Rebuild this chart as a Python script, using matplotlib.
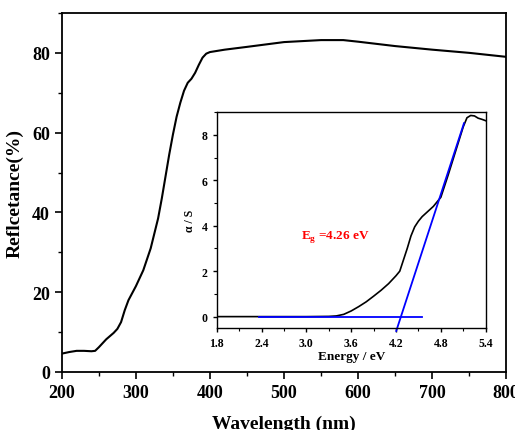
import matplotlib
matplotlib.use("Agg")
import matplotlib.pyplot as plt
from matplotlib.ticker import MultipleLocator

plt.rcParams['font.family'] = ['Liberation Serif', 'DejaVu Serif']
plt.rcParams['font.weight'] = 'bold'

# Main reflectance spectrum
wavelength = [200, 210, 220, 230, 240, 245, 250, 260, 270, 275, 280, 285, 290, 300, 310,
              320, 330, 335, 340, 345, 350, 355, 360, 365, 370, 375, 380, 385, 390, 395,
              400, 410, 420, 450, 500, 550, 580, 600, 650, 700, 750, 800]
reflectance = [4.6, 5.0, 5.3, 5.3, 5.2, 5.3, 6.2, 8.2, 9.8, 10.8, 12.5, 15.5, 18.0, 21.5, 25.5,
               31.0, 38.5, 43.5, 49.0, 54.5, 59.5, 64.0, 67.5, 70.5, 72.5, 73.5, 75.0, 77.0, 78.8, 79.8,
               80.2, 80.5, 80.8, 81.5, 82.7, 83.2, 83.2, 82.8, 81.7, 80.8, 80.0, 79.0]

# Inset: alpha/S vs energy
energy = [1.8, 2.4, 3.0, 3.3, 3.4, 3.5, 3.6, 3.7, 3.8, 3.9, 4.0, 4.1, 4.2, 4.25, 4.3, 4.35,
          4.4, 4.45, 4.5, 4.55, 4.6, 4.7, 4.8, 4.9, 5.0, 5.1, 5.15, 5.2, 5.25, 5.3, 5.35, 5.4]
alpha_s = [0.0, 0.0, 0.0, 0.01, 0.03, 0.1, 0.25, 0.44, 0.65, 0.9, 1.16, 1.45, 1.8, 2.0, 2.5, 3.0,
           3.55, 3.95, 4.2, 4.4, 4.55, 4.85, 5.25, 6.25, 7.3, 8.35, 8.75, 8.85, 8.83, 8.73, 8.68, 8.62]

# Fit lines
tangent_x = [4.203, 5.11]
tangent_y = [-0.63, 8.51]
base_x = [2.37, 4.55]
base_y = [0.0, 0.0]
eg_label = "E$_\\mathregular{g}$ =4.26 eV"

fig = plt.figure(figsize=(5.15, 4.31), dpi=100)
ax = fig.add_axes([0.120, 0.1346, 0.863, 0.833])
ax.plot(wavelength, reflectance, color='black', lw=1.5)
ax.set_xlim(200, 800)
ax.set_ylim(0, 90)
ax.xaxis.set_major_locator(MultipleLocator(100))
ax.xaxis.set_minor_locator(MultipleLocator(50))
ax.yaxis.set_major_locator(MultipleLocator(20))
ax.yaxis.set_minor_locator(MultipleLocator(10))
ax.tick_params(which='major', direction='out', length=5, width=1.2, labelsize=13)
ax.tick_params(which='minor', direction='out', length=3, width=1.0)
for s in ax.spines.values():
    s.set_linewidth(1.3)
ax.set_xlabel("Wavelength (nm)", fontsize=14, fontweight='bold', labelpad=10)
ax.set_ylabel("Reflcetance(%)", fontsize=14, fontweight='bold', labelpad=6)

ins = fig.add_axes([0.421, 0.2367, 0.522, 0.501])
ins.plot(energy, alpha_s, color='black', lw=1.2)
ins.plot(base_x, base_y, color='blue', lw=1.3)
ins.plot(tangent_x, tangent_y, color='blue', lw=1.3, clip_on=False)
ins.set_xlim(1.8, 5.4)
ins.set_ylim(-0.5, 9)
ins.xaxis.set_major_locator(MultipleLocator(0.6))
ins.xaxis.set_minor_locator(MultipleLocator(0.3))
ins.yaxis.set_major_locator(MultipleLocator(2))
ins.yaxis.set_minor_locator(MultipleLocator(1))
ins.tick_params(which='major', direction='out', length=3, width=1.0, labelsize=8.5)
ins.tick_params(which='minor', direction='out', length=2, width=0.8)
ins.xaxis.set_major_formatter(plt.FuncFormatter(lambda v, p: f"{v:.1f}"))
for s in ins.spines.values():
    s.set_linewidth(1.0)
ins.set_xlabel("Energy / eV", fontsize=9.5, fontweight='bold', labelpad=1)
ins.set_ylabel("α / S", fontsize=8.5, fontweight='bold', labelpad=4)
ins.text(2.93, 3.56, eg_label, color='red', fontsize=9.5, fontweight='bold', va='center', ha='left')

fig.savefig("out.png", dpi=100)
